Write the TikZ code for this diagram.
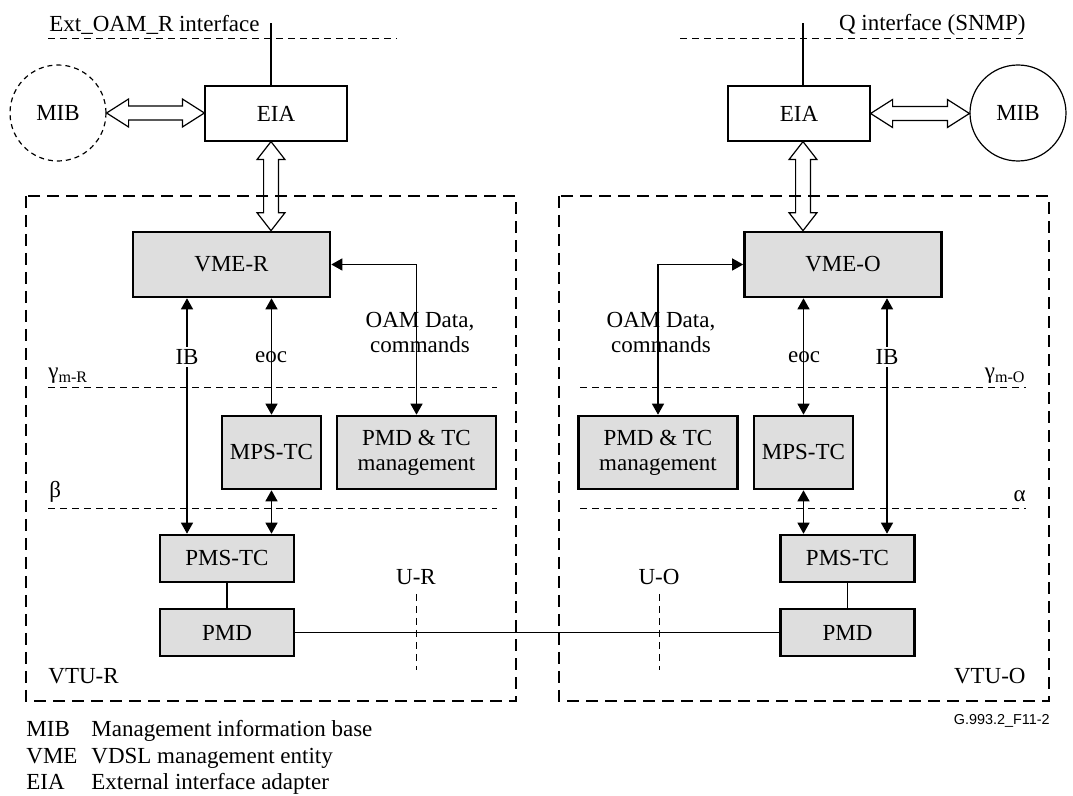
\documentclass[tikz,border=0pt]{standalone}
\usepackage{fontspec}
\setmainfont{Liberation Serif}
\newfontfamily\figsans{Liberation Sans}
\usetikzlibrary{arrows.meta,calc}

\newcommand\hollowh[2]{\draw[hollowarrow] let \p1=(#1), \p2=(#2) in
  (\x1,\y1) -- (\x1+11pt,\y1+7pt) -- (\x1+11pt,\y1+3.5pt) -- (\x2-11pt,\y1+3.5pt) -- (\x2-11pt,\y1+7pt)
  -- (\x2,\y1) -- (\x2-11pt,\y1-7pt) -- (\x2-11pt,\y1-3.5pt) -- (\x1+11pt,\y1-3.5pt) -- (\x1+11pt,\y1-7pt) -- cycle;}
\newcommand\hollowv[2]{\draw[hollowarrow] let \p1=(#1), \p2=(#2) in
  (\x1,\y1) -- (\x1+7pt,\y1-9pt) -- (\x1+3.7pt,\y1-9pt) -- (\x1+3.7pt,\y2+9pt) -- (\x1+7pt,\y2+9pt)
  -- (\x1,\y2) -- (\x1-7pt,\y2+9pt) -- (\x1-3.7pt,\y2+9pt) -- (\x1-3.7pt,\y1-9pt) -- (\x1-7pt,\y1-9pt) -- cycle;}

\tikzset{
  whitebox/.style={draw,line width=0.6pt,minimum width=71pt,minimum height=27.5pt},
  graybox/.style={draw,line width=1.3pt,fill=black!13,align=center},
  mib/.style={circle,draw,line width=0.6pt,minimum size=48pt},
  link/.style={line width=0.65pt,{Triangle[length=5.5pt,width=6pt]}-{Triangle[length=5.5pt,width=6pt]}},
  refline/.style={line width=0.5pt,dash pattern=on 3.5pt off 2.5pt},
  unitframe/.style={line width=1.3pt,dash pattern=on 6pt off 3.5pt},
  hollowarrow/.style={draw,fill=white,line width=0.6pt},
  lbl/.style={inner sep=0pt}
}

\begin{document}
\begin{tikzpicture}[x=0.5pt,y=-0.5pt,font=\fontsize{11.5}{12.5}\selectfont]
  \useasboundingbox (0,0) rectangle (1073,796);
  \coordinate (topR) at (271,23);
  \coordinate (topO) at (803,23);
  \coordinate (ibR) at (187,0);
  \coordinate (ibO) at (887,0);

  \node[mib,dash pattern=on 2.5pt off 2pt] (mibR) at (58,113) {MIB};
  \node[whitebox] (eiaR) at (276,113.5) {EIA};
  \node[whitebox] (eiaO) at (799,113.5) {EIA};
  \node[mib] (mibO) at (1018,113) {MIB};

  \node[graybox,minimum width=98.5pt,minimum height=32.5pt] (vmeR) at (231.5,264.5) {VME-R};
  \node[graybox,minimum width=98.5pt,minimum height=32.5pt] (vmeO) at (843,264.5) {VME-O};
  \node[graybox,minimum width=49.5pt,minimum height=36.5pt] (mpsR) at (271.5,452.5) {MPS-TC};
  \node[graybox,minimum width=79.5pt,minimum height=36.5pt] (pmdtcR) at (416.5,452.5) {PMD \& TC\\management};
  \node[graybox,minimum width=79.5pt,minimum height=36.5pt] (pmdtcO) at (658,452.5) {PMD \& TC\\management};
  \node[graybox,minimum width=49.5pt,minimum height=36.5pt] (mpsO) at (803.5,452.5) {MPS-TC};
  \node[graybox,minimum width=67pt,minimum height=23.5pt] (pmstcR) at (227,558.5) {PMS-TC};
  \node[graybox,minimum width=67pt,minimum height=23.5pt] (pmdR) at (227,632.5) {PMD};
  \node[graybox,minimum width=67pt,minimum height=23.5pt] (pmstcO) at (847.5,558.5) {PMS-TC};
  \node[graybox,minimum width=67pt,minimum height=23.5pt] (pmdO) at (847.5,632.5) {PMD};

  \draw[line width=0.6pt] (eiaR.north -| topR) -- (topR);
  \draw[line width=0.6pt] (eiaO.north -| topO) -- (topO);
  \draw[refline] (48,39) -- (397,39);
  \draw[refline] (680,39) -- (1026,39);
  \node[lbl,anchor=west] (extlbl) at (49,25) {Ext\_OAM\_R interface};
  \node[lbl,anchor=east] (qlbl) at (1026,25) {Q interface (SNMP)};

  \hollowh{mibR.east}{eiaR.west}
  \hollowh{eiaO.east}{mibO.west}
  \hollowv{eiaR.south -| topR}{vmeR.north -| topR}
  \hollowv{eiaO.south -| topO}{vmeO.north -| topO}

  \draw[unitframe] (26,196) rectangle (516,701);
  \draw[unitframe] (559,196) rectangle (1049,701);

  \draw[refline] (48,388) -- (497,388);
  \draw[refline] (580,388) -- (1026,388);
  \draw[refline] (48,509) -- (497,509);
  \draw[refline] (580,509) -- (1026,509);
  \node[lbl,anchor=west] (gamR) at (48,376) {γ\textsubscript{m-R}};
  \node[lbl,anchor=east] (gamO) at (1026,376) {γ\textsubscript{m-O}};
  \node[lbl,anchor=west] (betalbl) at (49,492) {β};
  \node[lbl,anchor=east] (alphalbl) at (1026,496) {α};

  \draw[link] (vmeR.south -| ibR) -- (pmstcR.north -| ibR);
  \draw[link] (vmeR.south -| mpsR) -- (mpsR.north);
  \draw[link] (mpsR.south) -- (mpsR.south |- pmstcR.north);
  \draw[link] (pmdtcR.north) |- (vmeR.east);
  \draw[link] (vmeO.south -| ibO) -- (pmstcO.north -| ibO);
  \draw[link] (vmeO.south -| mpsO) -- (mpsO.north);
  \draw[link] (mpsO.south) -- (mpsO.south |- pmstcO.north);
  \draw[link] (pmdtcO.north) |- (vmeO.west);
  \node[fill=white,inner sep=1pt] (ibRlbl) at (187,357) {IB};
  \node[fill=white,inner sep=1pt] (ibOlbl) at (887,357) {IB};
  \node (eocR) at (271,357) {eoc};
  \node (eocO) at (804,357) {eoc};
  \node[align=center] (oamR) at (420,333) {OAM Data,\\commands};
  \node[align=center] (oamO) at (661,333) {OAM Data,\\commands};

  \draw[line width=0.6pt] (pmstcR) -- (pmdR);
  \draw[line width=0.6pt] (pmstcO) -- (pmdO);
  \draw[line width=0.6pt] (pmdR) -- (pmdO);
  \node (urlbl) at (416,577) {U-R};
  \node (uolbl) at (659,577) {U-O};
  \draw[refline] (416,594) -- (416,670);
  \draw[refline] (659,594) -- (659,670);
  \node[lbl,anchor=west] (vturlbl) at (48,676) {VTU-R};
  \node[lbl,anchor=east] (vtuolbl) at (1026,676) {VTU-O};

  \node[lbl,anchor=east,font=\figsans\fontsize{7.2}{8}\selectfont] (figid) at (1050,721) {G.993.2\_F11-2};
  \foreach \ab/\txt/\yy in {MIB/Management information base/737,VME/VDSL management entity/764,EIA/External interface adapter/790}{
    \node[lbl,anchor=base west] at (26,\yy) {\ab};
    \node[lbl,anchor=base west] at (91,\yy) {\txt};
  }
\end{tikzpicture}
\end{document}
